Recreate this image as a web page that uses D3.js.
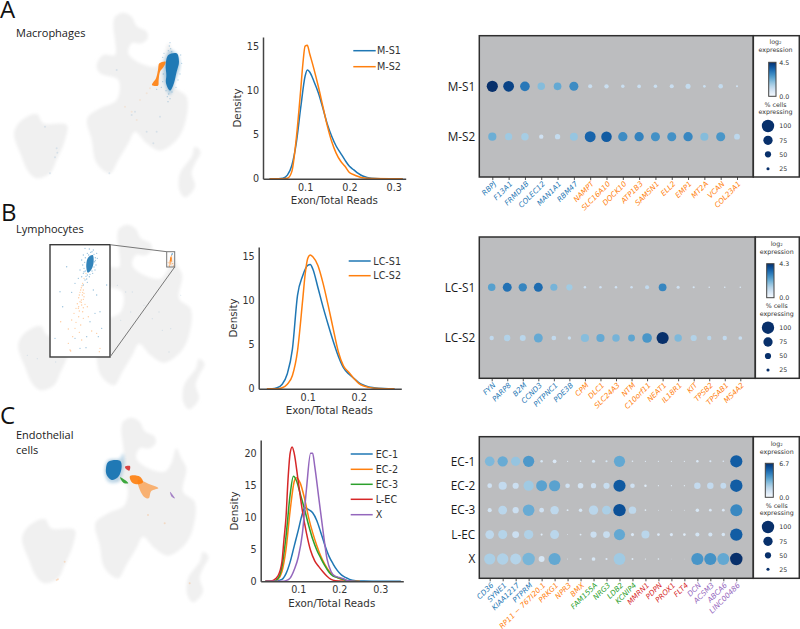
<!DOCTYPE html>
<html>
<head>
<meta charset="utf-8">
<script src="https://cdn.jsdelivr.net/npm/d3@7"></script>
<style>
body { margin: 0; background: #fff; }
text { font-family: "DejaVu Sans", sans-serif; fill: #333; }
.serifless { font-family: "Open Sans", sans-serif; fill: #1a1a1a; }
</style>
</head>
<body>
<div id="chart"></div>
<script>
// ---- density curves: [exon/total, density]
var mS1 = [[.02,0],[.04,0],[.05,.05],[.06,.4],[.07,1.5],[.08,4],[.09,8],[.1,11.6],[.105,12.3],[.11,12.1],[.12,11],[.13,9.7],[.14,8],[.15,6.2],[.16,4.8],[.17,3.7],[.18,2.9],[.19,2.1],[.2,1.4],[.21,1],[.22,.6],[.23,.3],[.24,.15],[.25,.05],[.27,0],[.32,0]];
var mS2 = [[.02,0],[.05,0],[.06,.05],[.07,.8],[.08,4.5],[.09,10],[.095,13],[.1,15],[.105,15.1],[.11,14.2],[.12,12.4],[.13,10.4],[.14,8.2],[.15,6],[.16,4.2],[.17,2.9],[.18,2],[.19,1.4],[.2,.7],[.21,.45],[.22,.25],[.23,.1],[.25,.02],[.32,0]];
var lcS1 = [[.02,0],[.03,0],[.04,.1],[.05,.5],[.06,1.7],[.07,4.5],[.08,10.6],[.09,12.8],[.1,14],[.105,14.1],[.11,13.6],[.12,11.5],[.13,9.3],[.14,7.3],[.15,5.4],[.16,3.7],[.17,2.4],[.18,1.7],[.19,1.2],[.2,.7],[.21,.4],[.22,.2],[.23,.12],[.25,.03],[.27,0]];
var lcS2 = [[.02,0],[.04,0],[.05,.1],[.06,.5],[.07,1.5],[.08,4.3],[.09,10],[.095,13],[.1,14.8],[.105,15.2],[.11,15],[.12,14],[.13,12],[.14,9.5],[.15,6.8],[.16,4.2],[.17,2.6],[.18,1.9],[.19,1.2],[.2,.6],[.21,.3],[.22,.15],[.23,.05],[.25,0],[.27,0]];
var ec1 = [[.02,0],[.04,0],[.06,.3],[.07,1.2],[.08,3],[.09,5.5],[.1,8],[.11,10.6],[.116,11.5],[.125,11.2],[.135,10.7],[.145,9.5],[.155,7.6],[.165,5.6],[.175,3.9],[.185,2.7],[.195,1.7],[.205,1],[.215,.6],[.225,.3],[.24,.1],[.26,.03],[.3,0],[.35,0]];
var ec2 = [[.02,0],[.04,0],[.05,.3],[.06,1.5],[.07,5],[.08,11],[.09,15.6],[.095,16.2],[.105,15.3],[.115,13],[.125,10],[.135,7.6],[.145,5.6],[.155,3.9],[.165,2.6],[.175,1.6],[.185,.9],[.195,.6],[.205,.3],[.22,.1],[.25,0]];
var ec3 = [[.02,0],[.04,0],[.05,.4],[.06,2.2],[.07,7],[.08,13.5],[.088,16.4],[.095,15.8],[.105,13.6],[.115,11.3],[.125,8.8],[.135,6.6],[.145,4.9],[.155,3.6],[.165,2.4],[.175,1.4],[.185,.8],[.195,.6],[.205,.4],[.22,.1],[.24,0]];
var lec = [[.02,0],[.03,0],[.04,.2],[.05,.8],[.06,3],[.065,6.5],[.07,10],[.075,16],[.08,20],[.085,21],[.09,20],[.1,15.5],[.11,11],[.12,7.5],[.13,4.8],[.14,3.2],[.15,2.3],[.16,1.5],[.17,.8],[.18,.3],[.19,.1],[.21,0]];
var ecX = [[.02,0],[.06,0],[.07,.1],[.08,.5],[.09,1.8],[.1,3.8],[.11,7.5],[.12,14.5],[.13,20],[.135,20],[.14,18],[.15,13],[.16,8],[.17,3.5],[.18,1.5],[.19,.8],[.2,.6],[.21,.4],[.22,.1],[.24,0]];

// ---- dot plot genes, groups, % cells and log2 expression
var genesA = ["RBPJ","F13A1","FRMD4B","COLEC12","MAN1A1","RBM47","NAMPT","SLC16A10","DOCK10","ATP1B3","SAMSN1","ELL2","EMP1","MT2A","VCAN","COL23A1"];
var groupsA = ["M-S1","M-S2"];
var geneClassA = [0,0,0,0,0,0,1,1,1,1,1,1,1,1,1,1];
var pctA = [
  [90,87,78,60,62,73,33,35,28,30,28,33,41,22,37,17],
  [66,58,60,35,43,64,88,85,75,75,73,73,75,65,73,47]];
var exprA = [
  [4.5,4.1,3,1.6,2,2.6,.7,.7,.7,.7,.7,.7,.8,.7,.8,.6],
  [1.9,1.3,1.2,.6,.8,1.4,3.4,3.6,2.6,2.8,2.5,2.5,2.7,1.6,2.4,.9]];

var genesB = ["FYN","PARP8","B2M","CCND3","PITPNC1","PDE3B","CPM","DLC1","SLC24A3","NTM","C10orf11","NEAT1","IL18R1","KIT","TPSB2","TPSAB1","MS4A2"];
var groupsB = ["LC-S1","LC-S2"];
var geneClassB = [0,0,0,0,0,0,1,1,1,1,1,1,1,1,1,1,1];
var pctB = [
  [60,72,67,72,57,50,20,20,20,20,33,63,25,17,13,13,13],
  [35,52,48,72,38,27,66,66,60,55,78,98,60,50,35,35,30]];
var exprB = [
  [2.1,3,2.6,3.1,1.7,1.2,.6,.6,.6,.6,.8,2.6,.6,.5,.4,.4,.4],
  [.8,1,.9,1.9,.8,.7,1.5,1.9,1.7,2,2.3,4.3,1.6,1,.9,.8,.7]];

var genesC = ["CD36","SYNE1","KIAA1217","PTPRM","RP11 − 767I20.1","PRKG1","NPR3","BMX","FAM155A","NRG3","LDB2","KCNIP4","MMRN1","PDPN","PROX1","FLT4","DCN","ACSM3","ABCA6","LINC00486"];
var groupsC = ["EC-1","EC-2","EC-3","L-EC","X"];
var geneClassC = [0,0,0,0,1,1,1,1,2,2,2,2,3,3,3,3,4,4,4,4];
var pctC = [
  [78,83,75,90,20,30,10,12,25,17,90,13,10,10,10,10,20,17,13,98],
  [38,66,50,83,88,90,37,45,42,50,98,37,20,10,10,10,52,52,47,100],
  [33,70,50,93,38,68,15,28,75,72,100,60,13,8,8,8,28,22,22,97],
  [70,73,55,75,17,72,8,15,50,55,90,25,65,22,25,22,33,33,28,100],
  [90,92,88,100,48,98,8,17,30,17,95,15,10,13,5,5,98,98,97,100]];
var exprC = [
  [2.5,2.9,2.1,3.5,.7,.6,.4,.4,.7,.7,3,.5,.4,.4,.4,.4,.6,.6,.6,5.3],
  [.9,1.2,1,1.9,3.2,3.2,.9,.8,.9,1.1,5.4,.9,.5,.4,.4,.4,1.2,1.2,1.2,5.3],
  [.8,1.4,1,2.9,.9,1.3,.5,.7,1.4,1.7,5.7,1.3,.4,.4,.4,.4,.7,.6,.6,4],
  [1.3,1.5,1,1.6,.5,1.4,.4,.5,1,1.1,3,.6,1.4,.6,.6,.5,.8,.8,.7,5.3],
  [1.7,1.6,1.5,2.6,.7,3,.3,.5,.7,.6,1.9,.5,.3,.4,.3,.3,3.6,3.7,3,6.7]];

var sizeLegend = [100,75,50,25];

// ---- umap outlines and clusters, in umap units
var umapMain = [[345,50],[370,38],[395,50],[410,78],[440,95],[443,115],[425,130],[395,130],[385,160],[420,190],[470,200],[490,175],[505,130],[520,160],[535,190],[525,260],[560,290],[555,370],[530,420],[480,452],[440,430],[405,395],[385,430],[355,480],[330,520],[290,490],[275,420],[262,355],[300,325],[350,300],[355,240],[300,220],[290,195],[310,165],[345,165],[345,120],[340,80]];
var umapLeft = [[42,400],[60,365],[110,342],[130,370],[200,375],[195,420],[170,480],[150,520],[110,535],[85,515],[65,470]];
var umapTail = [[585,440],[602,455],[585,490],[575,520],[585,560],[555,592],[538,570],[540,520],[560,490],[575,470]];

var macBlue = [[505,165],[530,160],[537,185],[530,215],[520,255],[510,272],[498,250],[499,225],[497,195]];
var macBlueHaze = [[512,150],[536,170],[540,200],[526,240],[510,285],[494,250],[492,190]];
var macOrange = [[478,190],[497,185],[491,200],[480,215],[476,240],[474,257],[456,255],[468,235],[474,210]];
var macSpray = [[510,128],[508,138],[512,146],[505,152],[515,155],[492,160],[488,172],[542,165],[545,190],[540,222],[534,240],[490,222],[488,245],[528,262],[506,282],[502,290],[510,296],[504,305],[516,276],[484,262],[470,268],[498,272]];
var macFaint = [[170,445],[165,472],[172,458],[135,380],[328,520],[460,430],[440,395],[405,335],[350,210],[395,345],[480,350],[470,395],[150,520]];
var macFaintOrange = [[420,300],[395,335],[440,280],[450,265],[375,320],[410,360]];

var endoBlue = [[301,170],[336,167],[341,185],[331,215],[311,225],[296,210],[294,190]];
var endoBlueHaze = [[345,145],[350,170],[345,200],[330,232],[300,230],[290,195],[300,165],[335,160]];
var endoRed = [[351,185],[366,183],[364,197],[354,192]];
var endoGreen = [[336,217],[351,225],[361,235],[346,233]];
var endoOrangeHead = [[366,213],[396,215],[405,232],[385,238],[370,230]];
var endoOrangeFan = [[390,225],[425,238],[451,250],[430,258],[422,280],[408,275],[392,245]];
var endoPurple = [[486,260],[501,280],[491,275]];
var endoFaintOrange = [[146,525],[150,523],[170,470],[545,535],[470,355],[420,330]];

// lymphocyte points, in the units of the inset box
var lcBlueCore = [[264,158],[278,150],[281,170],[275,192],[264,203],[259,188]];
var lcBluePts = [[255,130],[268,132],[280,135],[290,145],[250,150],[245,165],[292,160],[248,180],[288,180],[240,195],[285,195],[250,205],[278,205],[245,215],[268,215],[255,225],[235,220],[262,232],[250,240],[280,255],[290,270],[225,235],[200,185],[215,262],[180,260],[300,320],[285,325],[260,395],[295,395],[225,400],[270,350],[305,370],[165,400],[240,430],[258,428],[188,305],[320,240],[262,145],[272,142],[282,148],[256,158],[286,158],[254,172],[284,170],[252,190],[282,186],[256,198],[276,198],[262,210],[270,208],[258,214],[252,200],[286,166],[276,140],[266,150],[260,222]];
var lcOrangePts = [[258,205],[252,220],[248,235],[244,248],[250,255],[240,262],[247,270],[236,278],[250,283],[240,290],[232,296],[245,300],[255,298],[228,310],[238,318],[248,320],[262,305],[222,325],[236,335],[250,340],[215,345],[228,352],[242,360],[225,370],[205,372],[238,382],[275,378],[218,395],[205,415],[212,438],[245,405],[290,385],[298,440],[182,350],[265,335],[235,310],[244,285],[252,265],[210,435],[300,430],[246,242],[242,255],[248,262],[238,270],[252,275],[244,292],[236,305],[250,308]];
var lcFaintPanel = [[340,220],[365,240],[385,240],[420,280],[465,300],[500,350],[475,355],[445,320],[70,430],[100,440],[155,450],[350,325],[495,420],[380,300],[530,250],[305,410],[185,380]];

var tab10 = ["#1f77b4","#ff7f0e","#2ca02c","#d62728","#9467bd"];

var svg = d3.select("#chart").append("svg").attr("width", 800).attr("height", 629);

var defs = svg.append("defs");
defs.append("filter").attr("id", "soft").append("feGaussianBlur").attr("stdDeviation", 1.5);
defs.append("filter").attr("id", "softer").append("feGaussianBlur").attr("stdDeviation", .6);

var blobLine = d3.line().curve(d3.curveCatmullRomClosed.alpha(.5));

function umapScales(dx, dy) {
  return {
    x: d3.scaleLinear().domain([0, 690]).range([dx, dx + 230]),
    y: d3.scaleLinear().domain([0, 630]).range([dy, dy + 210])
  };
}

function drawUmap(dx, dy) {
  var s = umapScales(dx, dy);
  var g = svg.append("g");
  g.selectAll("path")
    .data([umapMain, umapLeft, umapTail])
    .enter()
    .append("path")
    .attr("d", d => blobLine(d.map(p => [s.x(p[0]), s.y(p[1])])))
    .attr("fill", "#f0f0f0")
    .attr("filter", "url(#soft)");
  return s;
}

function drawBlob(s, pts, color, opacity, filter) {
  svg.append("path")
    .attr("d", blobLine(pts.map(p => [s.x(p[0]), s.y(p[1])])))
    .attr("fill", color)
    .attr("opacity", opacity)
    .attr("filter", `url(#${filter})`);
}

function drawSpecks(s, pts, color, opacity, r) {
  svg.append("g").selectAll("circle")
    .data(pts)
    .enter()
    .append("circle")
    .attr("cx", d => s.x(d[0]))
    .attr("cy", d => s.y(d[1]))
    .attr("r", r)
    .attr("fill", color)
    .attr("opacity", opacity);
}

// Panel A umap
var umapA = drawUmap(0, 0);
drawSpecks(umapA, macFaint, tab10[0], .12, 1);
drawSpecks(umapA, macFaintOrange, tab10[1], .1, 1);
drawSpecks(umapA, macSpray, tab10[0], .3, .7);
drawBlob(umapA, macBlueHaze, tab10[0], .3, "soft");
drawBlob(umapA, macOrange, tab10[1], .9, "softer");
drawBlob(umapA, macBlue, tab10[0], .97, "softer");

// Panel B umap with the zoomed box
var umapB = drawUmap(4, 212);
drawSpecks(umapB, lcFaintPanel, tab10[0], .12, .7);

var insetPx = {x0: 50, x1: 110, y0: 244.7, y1: 357};
var boxPx = {x0: 166.7, x1: 174.7, y0: 251.7, y1: 267};
var insetScale = {
  x: d3.scaleLinear().domain([150, 330]).range([insetPx.x0, insetPx.x1]),
  y: d3.scaleLinear().domain([119, 456]).range([insetPx.y0, insetPx.y1])
};
var miniScale = {
  x: d3.scaleLinear().domain([150, 330]).range([boxPx.x0, boxPx.x1]),
  y: d3.scaleLinear().domain([119, 456]).range([boxPx.y0, boxPx.y1])
};

svg.append("rect")
  .attr("x", insetPx.x0).attr("y", insetPx.y0)
  .attr("width", insetPx.x1 - insetPx.x0).attr("height", insetPx.y1 - insetPx.y0)
  .attr("fill", "#fff");
drawSpecks(insetScale, lcOrangePts, tab10[1], .4, .7);
drawSpecks(insetScale, lcBluePts, tab10[0], .45, .7);
drawBlob(insetScale, lcBlueCore, tab10[0], .9, "softer");
svg.append("rect")
  .attr("x", insetPx.x0).attr("y", insetPx.y0)
  .attr("width", insetPx.x1 - insetPx.x0).attr("height", insetPx.y1 - insetPx.y0)
  .attr("fill", "none").attr("stroke", "#3a3a3a").attr("stroke-width", 1.4);

drawSpecks(miniScale, lcOrangePts, tab10[1], .6, .5);
drawBlob(miniScale, lcBlueCore, tab10[0], 1, "softer");
svg.append("rect")
  .attr("x", boxPx.x0).attr("y", boxPx.y0)
  .attr("width", boxPx.x1 - boxPx.x0).attr("height", boxPx.y1 - boxPx.y0)
  .attr("fill", "none").attr("stroke", "#777").attr("stroke-width", 1);
svg.append("line")
  .attr("x1", insetPx.x1).attr("y1", insetPx.y0).attr("x2", boxPx.x0).attr("y2", boxPx.y0)
  .attr("stroke", "#777");
svg.append("line")
  .attr("x1", insetPx.x1).attr("y1", insetPx.y1).attr("x2", boxPx.x1).attr("y2", boxPx.y1)
  .attr("stroke", "#777");

// Panel C umap
var umapC = drawUmap(8, 405);
drawSpecks(umapC, endoFaintOrange, tab10[1], .2, 1);
drawBlob(umapC, endoBlueHaze, tab10[0], .25, "soft");
drawBlob(umapC, endoOrangeFan, tab10[1], .55, "softer");
drawBlob(umapC, endoOrangeHead, tab10[1], .9, "softer");
drawBlob(umapC, endoGreen, tab10[2], .9, "softer");
drawBlob(umapC, endoRed, tab10[3], .85, "softer");
drawBlob(umapC, endoPurple, tab10[4], .8, "softer");
drawBlob(umapC, endoBlue, tab10[0], .97, "softer");

// Panel letters and cell type names
[["A", 0, 18], ["B", 1, 221], ["C", 0, 424]].forEach(function(d) {
  svg.append("text").attr("class", "serifless")
    .attr("x", d[1]).attr("y", d[2])
    .style("font-size", "24px").style("fill", "#111")
    .text(d[0]);
});
[["Macrophages", 36.7], ["Lymphocytes", 233], ["Endothelial", 439], ["cells", 453.7]].forEach(function(d) {
  svg.append("text").attr("class", "serifless")
    .attr("x", 16).attr("y", d[1])
    .style("font-size", "11px")
    .text(d[0]);
});

// Density panels
function drawDensity(p) {
  var x = d3.scaleLinear().domain(p.xDomain).range([p.left, p.right]);
  var y = d3.scaleLinear().domain(p.yDomain).range([p.bottom, p.top]);
  var line = d3.line().curve(d3.curveMonotoneX).x(d => x(d[0])).y(d => y(d[1]));

  svg.append("g").selectAll("path")
    .data(p.series)
    .enter()
    .append("path")
    .attr("d", line)
    .attr("fill", "none")
    .attr("stroke-width", 1.5)
    .attr("stroke", (d, i) => tab10[i]);

  var xAxis = svg.append("g")
    .attr("transform", `translate(0, ${p.bottom})`)
    .call(d3.axisBottom(x).tickValues(p.xTicks).tickFormat(d3.format(".1f")).tickSize(0).tickPadding(5));
  var yAxis = svg.append("g")
    .attr("transform", `translate(${p.left}, 0)`)
    .call(d3.axisLeft(y).tickValues(p.yTicks).tickSize(0).tickPadding(4));
  [xAxis, yAxis].forEach(function(a) {
    a.select(".domain").attr("stroke", "#444").attr("stroke-width", 1.5);
    a.selectAll("text").style("font-size", "9.6px").style("font-family", "DejaVu Sans").style("fill", "#333");
  });

  svg.append("text")
    .attr("text-anchor", "middle")
    .attr("x", p.xLabel[0]).attr("y", p.xLabel[1])
    .style("font-size", "10.3px")
    .text("Exon/Total Reads");
  svg.append("text")
    .attr("text-anchor", "middle")
    .attr("transform", `translate(${p.yLabel[0]}, ${p.yLabel[1]}) rotate(-90)`)
    .style("font-size", "10.3px")
    .text("Density");

  p.names.forEach(function(name, i) {
    var ly = p.legendY[i];
    svg.append("line")
      .attr("x1", p.legendX[0]).attr("x2", p.legendX[1])
      .attr("y1", ly).attr("y2", ly)
      .attr("stroke", tab10[i]).attr("stroke-width", 1.5);
    svg.append("text")
      .attr("x", p.legendX[2]).attr("y", ly + 3.5)
      .style("font-size", "9.6px")
      .text(name);
  });
}

drawDensity({
  left: 263, right: 405.7, top: 37, bottom: 178.7,
  xDomain: [.005, .327], yDomain: [0, 16.03],
  xTicks: [.1, .2, .3], yTicks: [0, 5, 10, 15],
  series: [mS1, mS2], names: groupsA,
  legendX: [353.3, 375.7, 377], legendY: [50.7, 66.7],
  xLabel: [334.3, 204.3], yLabel: [240.5, 108]
});
drawDensity({
  left: 258.7, right: 401.3, top: 247, bottom: 388.7,
  xDomain: [.0039, .2835], yDomain: [0, 16.1],
  xTicks: [.1, .2], yTicks: [0, 5, 10, 15],
  series: [lcS1, lcS2], names: groupsB,
  legendX: [348.7, 370.7, 373.3], legendY: [261, 275.7],
  xLabel: [329.3, 414.3], yLabel: [236.5, 318]
});
drawDensity({
  left: 260.7, right: 403.3, top: 440, bottom: 581.3,
  xDomain: [.0083, .356], yDomain: [0, 22.08],
  xTicks: [.1, .2, .3], yTicks: [0, 5, 10, 15, 20],
  series: [ec1, ec2, ec3, lec, ecX], names: groupsC,
  legendX: [350.7, 372.7, 375.7], legendY: [454, 469.3, 484.3, 499.3, 514.7],
  xLabel: [331.7, 607.3], yLabel: [238, 511]
});

// Dot plot panels
var rScale = d3.scaleLinear().domain([0, 100]).range([0, 6.2]);

function drawDots(p) {
  svg.append("rect")
    .attr("x", p.left).attr("y", p.top)
    .attr("width", p.right - p.left).attr("height", p.bottom - p.top)
    .attr("fill", "#bcbdbf");
  svg.append("rect")
    .attr("x", p.right).attr("y", p.top)
    .attr("width", p.edge - p.right).attr("height", p.bottom - p.top)
    .attr("fill", "#fff");

  var x = d3.scalePoint().domain(d3.range(p.genes.length)).range(p.xRange);
  var y = d3.scalePoint().domain(p.groups).range(p.yRange);
  var color = d3.scaleSequentialPow(d3.interpolateBlues).exponent(.8).domain([0, p.max]);

  var cells = [];
  p.groups.forEach(function(group, r) {
    p.genes.forEach(function(gene, c) {
      cells.push({group: group, col: c, pct: p.pct[r][c], expr: p.expr[r][c]});
    });
  });

  svg.append("g").selectAll("circle")
    .data(cells)
    .enter()
    .append("circle")
    .attr("cx", d => x(d.col))
    .attr("cy", d => y(d.group))
    .attr("r", d => rScale(d.pct))
    .attr("fill", d => color(d.expr));

  // gene labels under the frame
  var xAxis = svg.append("g")
    .attr("transform", `translate(0, ${p.bottom})`)
    .call(d3.axisBottom(x).tickSize(3).tickFormat(i => p.genes[i]));
  xAxis.select(".domain").remove();
  xAxis.selectAll("line").attr("stroke", "#555");
  xAxis.selectAll("text")
    .attr("text-anchor", "end")
    .attr("x", 0)
    .attr("y", 0)
    .attr("dy", ".35em")
    .attr("transform", "translate(2, 5.5) rotate(-45)")
    .style("font-size", "7.3px")
    .style("font-style", "italic")
    .style("font-family", "DejaVu Sans")
    .style("fill", (d, i) => tab10[p.classes[i]]);

  var yAxis = svg.append("g")
    .attr("transform", `translate(${p.left}, 0)`)
    .call(d3.axisLeft(y).tickSize(0).tickPadding(4));
  yAxis.select(".domain").remove();
  yAxis.selectAll("text")
    .style("font-size", "11.8px")
    .style("font-family", "Open Sans")
    .style("fill", "#1a1a1a");

  [[p.left, p.right], [p.right, p.edge]].forEach(function(e) {
    svg.append("rect")
      .attr("x", e[0]).attr("y", p.top)
      .attr("width", e[1] - e[0]).attr("height", p.bottom - p.top)
      .attr("fill", "none").attr("stroke", "#2f2f2f").attr("stroke-width", 1.5);
  });

  // colour bar
  var gradId = "grad" + p.max * 10;
  var grad = defs.append("linearGradient").attr("id", gradId)
    .attr("x1", 0).attr("x2", 0).attr("y1", 1).attr("y2", 0);
  d3.range(0, 1.01, .1).forEach(function(t) {
    grad.append("stop").attr("offset", t).attr("stop-color", d3.interpolateBlues(t));
  });
  var barScale = d3.scaleLinear().domain([0, p.max]).range([p.barY[1], p.barY[0]]);
  svg.append("rect")
    .attr("x", p.barX[0]).attr("y", p.barY[0])
    .attr("width", p.barX[1] - p.barX[0]).attr("height", p.barY[1] - p.barY[0])
    .attr("fill", `url(#${gradId})`)
    .attr("stroke", "#444").attr("stroke-width", 1);
  [0, p.max].forEach(function(v) {
    svg.append("text")
      .attr("x", 779.3).attr("y", barScale(v) + 2.2)
      .style("font-size", "6.3px")
      .text(d3.format(".1f")(v));
  });

  [["log₂", p.titleY[0]], ["expression", p.titleY[1]], ["% cells", p.titleY[2]], ["expressing", p.titleY[3]]].forEach(function(d) {
    svg.append("text")
      .attr("text-anchor", "middle")
      .attr("x", p.titleX)
      .attr("y", d[1])
      .style("font-size", "6.3px")
      .text(d[0]);
  });

  sizeLegend.forEach(function(v, i) {
    svg.append("circle")
      .attr("cx", 768).attr("cy", p.sizeY[i])
      .attr("r", rScale(v)).attr("fill", "#08306b");
    svg.append("text")
      .attr("x", 779.3).attr("y", p.sizeY[i] + 2.2)
      .style("font-size", "6.3px")
      .text(v);
  });
}

drawDots({
  left: 479.3, right: 753.3, edge: 799.3, top: 35.7, bottom: 177,
  genes: genesA, groups: groupsA, classes: geneClassA, pct: pctA, expr: exprA, max: 4.5,
  xRange: [492.3, 737], yRange: [86.3, 136.7],
  barX: [768.7, 776], barY: [62.3, 96.3],
  titleX: 775.5, titleY: [44, 52, 106.5, 113.5],
  sizeY: [126, 140.3, 154.3, 168.7]
});
drawDots({
  left: 479.3, right: 755.3, edge: 799.3, top: 237, bottom: 378.3,
  genes: genesB, groups: groupsB, classes: geneClassB, pct: pctB, expr: exprB, max: 4.3,
  xRange: [491.7, 740.3], yRange: [287.3, 338],
  barX: [766.7, 774], barY: [263.7, 297.7],
  titleX: 776.7, titleY: [245.5, 253.5, 308, 315.5],
  sizeY: [327.7, 342, 356, 370]
});
drawDots({
  left: 479.3, right: 753.3, edge: 799.3, top: 436.7, bottom: 578.3,
  genes: genesC, groups: groupsC, classes: geneClassC, pct: pctC, expr: exprC, max: 6.7,
  xRange: [489.7, 736.3], yRange: [461.3, 559],
  barX: [765.3, 773.3], barY: [463.3, 497.3],
  titleX: 776.7, titleY: [445.5, 453.5, 508, 515],
  sizeY: [527, 541.3, 555.3, 569.3]
});
</script>
</body>
</html>
